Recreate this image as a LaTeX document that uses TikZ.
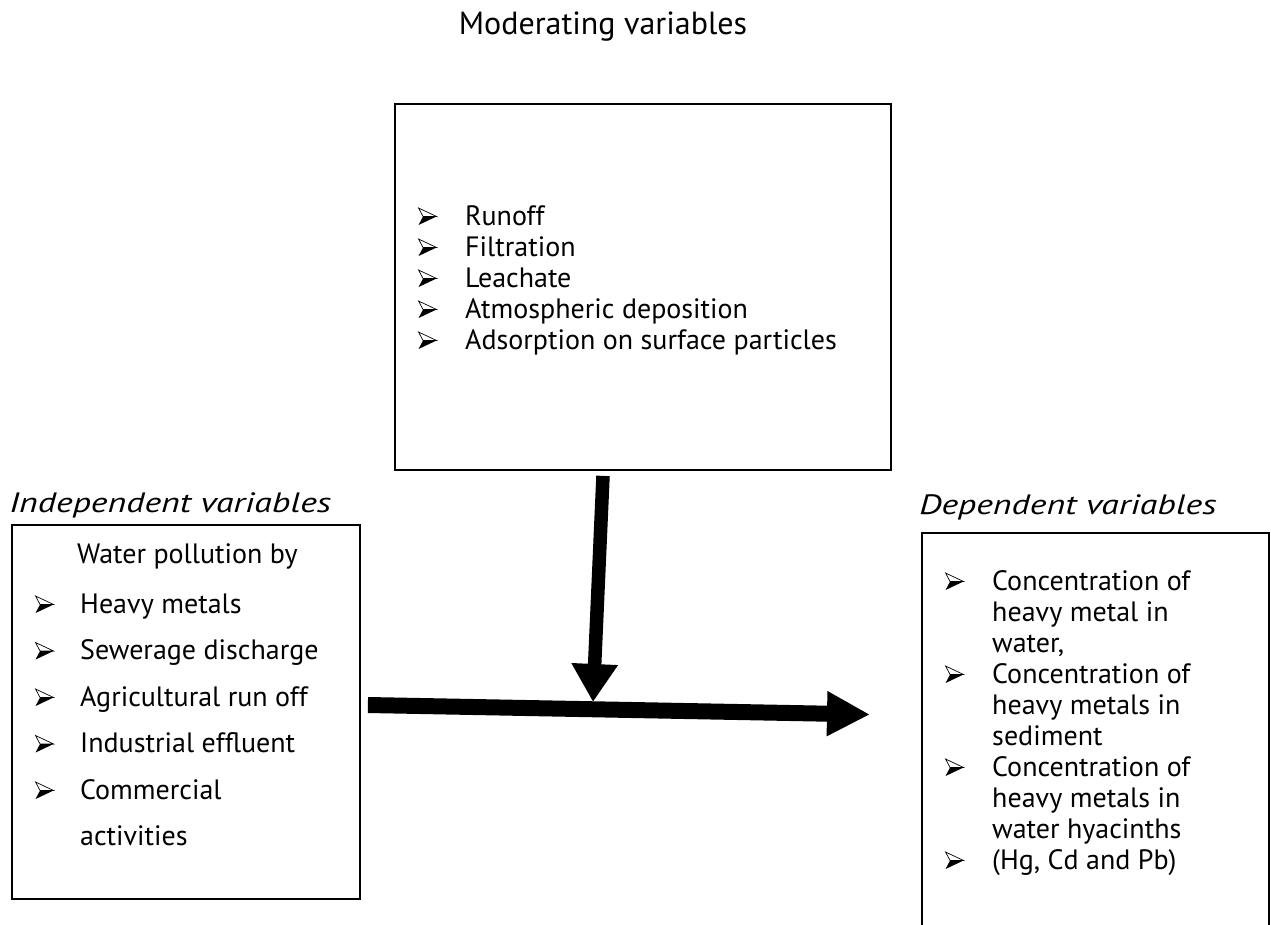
\documentclass[tikz,border=0pt]{standalone}
\usepackage{fontspec}
\setmainfont{PT Sans}
\newfontfamily\labelfont[FakeStretch=1.28]{PT Sans}
\usetikzlibrary{arrows.meta, positioning}
% 3D arrowhead bullet
\newcommand{\pointer}{\tikz[x=1pt, y=1pt, baseline=0pt]{%
  \draw[line width=0.7pt, fill=white, line join=miter] (0,17) -- (18,8.5) -- (4.5,8.5) -- cycle;
  \fill[line join=miter] (0,0) -- (18,8.5) -- (4.5,8.5) -- cycle;}}
\tikzset{
  % Boxes and lists
  varbox/.style={rectangle, draw=black, line width=1.8pt, inner sep=0pt},
  itemlist/.style={inner sep=0pt, anchor=base west, font=\fontsize{28}{31}\selectfont},
  catlabel/.style={inner sep=0pt, anchor=base west, font=\labelfont\fontsize{28}{34}\selectfont\itshape},
  % Arrows
  mainarrow/.style={line width=16pt, -{Triangle[length=43pt, width=42pt]}},
  modarrow/.style={line width=13.5pt, -{Triangle[length=38pt, width=44pt]}},
}
\begin{document}
\begin{tikzpicture}[x=1pt, y=-1pt]
    \clip (0,0) rectangle (1271,924);

    % Moderating box
    \node[varbox, minimum width=496pt, minimum height=366pt] (modbox) at (643,287) {};
    \node[inner sep=0pt, anchor=base, font=\fontsize{32}{36}\selectfont] (modlabel) at ([xshift=-40pt, yshift=69pt]modbox.north) {Moderating variables};
    \node[itemlist] (modlist) at (418,225) {\begin{tabular}[t]{@{}p{47pt}@{}l@{}}
      \pointer & Runoff\\
      \pointer & Filtration\\
      \pointer & Leachate\\
      \pointer & Atmospheric deposition\\
      \pointer & Adsorption on surface particles
    \end{tabular}};

    % Independent box
    \node[varbox, minimum width=348pt, minimum height=374pt] (indepbox) at (186,712) {};
    \node[catlabel] (indeplabel) at ([xshift=-2pt, yshift=12pt]indepbox.north west) {Independent variables};
    \node[itemlist] (pollhead) at (77,563) {Water pollution by};
    \node[itemlist] (indeplist) at (35,613) {\renewcommand{\arraystretch}{1.5}\begin{tabular}[t]{@{}p{45pt}@{}l@{}}
      \pointer & Heavy metals\\
      \pointer & Sewerage discharge\\
      \pointer & Agricultural run off\\
      \pointer & Industrial effluent\\
      \pointer & Commercial\\
               & activities
    \end{tabular}};

    % Dependent box
    \node[varbox, minimum width=347pt, minimum height=430pt] (depbox) at (1095.5,748) {};
    \node[catlabel] (deplabel) at ([xshift=-2pt, yshift=18pt]depbox.north west) {Dependent variables};
    \node[itemlist] (deplist) at (945,590) {\begin{tabular}[t]{@{}p{47pt}@{}l@{}}
      \pointer & Concentration of\\
               & heavy metal in\\
               & water,\\
      \pointer & Concentration of\\
               & heavy metals in\\
               & sediment\\
      \pointer & Concentration of\\
               & heavy metals in\\
               & water hyacinths\\
      \pointer & (Hg, Cd and Pb)
    \end{tabular}};

    % Arrows
    \coordinate (vstart) at ([xshift=-40pt, yshift=-5pt]modbox.south);
    \coordinate (vend) at (593,702);
    \coordinate (hstart) at ([xshift=7pt, yshift=7pt]indepbox.east);
    \coordinate (hend) at (870,714.5);
    \draw[modarrow] (vstart) -- (vend);
    \draw[mainarrow] (hstart) -- (hend);
\end{tikzpicture}
\end{document}
